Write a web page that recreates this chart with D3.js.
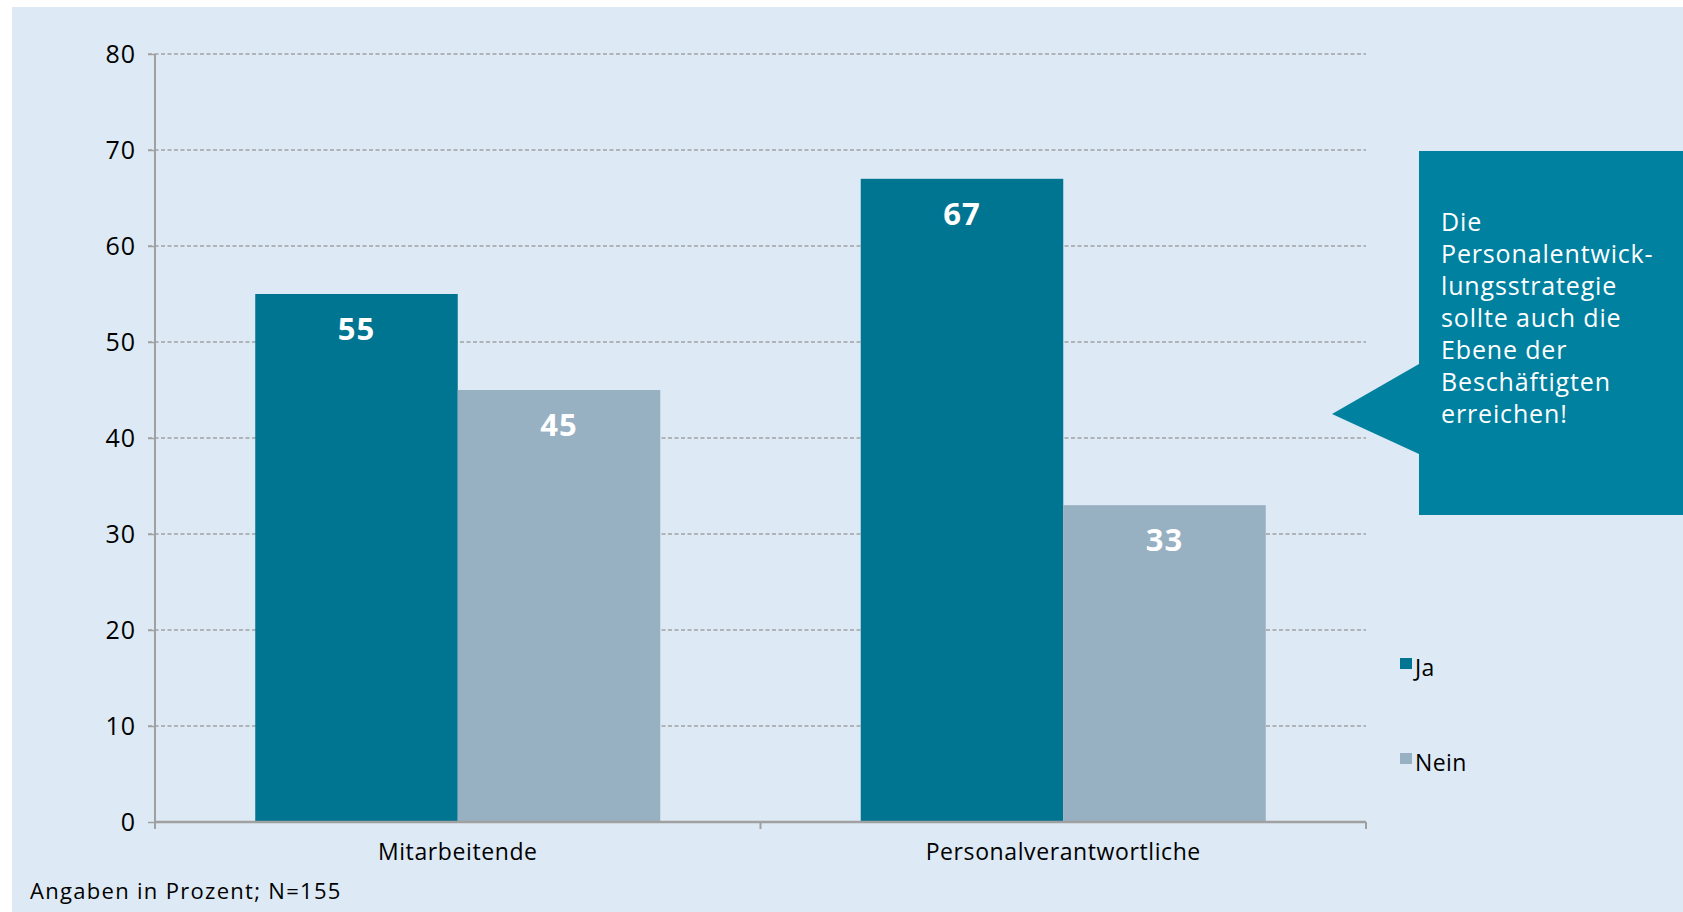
<!DOCTYPE html>
<html><head><meta charset="utf-8">
<script src="https://cdn.jsdelivr.net/npm/d3@7"></script>
<style>html,body{margin:0;padding:0;background:#fff;}svg{display:block;font-family:"Open Sans","Noto Sans",sans-serif;}</style>
</head><body>
<script>
const categories = ["Mitarbeitende", "Personalverantwortliche"];
const seriesNames = ["Ja", "Nein"];
const jaValues = [55, 67];
const neinValues = [45, 33];
const yTicks = [0, 10, 20, 30, 40, 50, 60, 70, 80];
const calloutLines = ["Die", "Personalentwick-", "lungsstrategie", "sollte auch die", "Ebene der", "Beschäftigten", "erreichen!"];
const footnote = "Angaben in Prozent; N=155";
const colors = {Ja: "#007592", Nein: "#97b0c2"};

const W = 1683, H = 912;
const svg = d3.select("body").append("svg").attr("width", W).attr("height", H);
svg.append("rect").attr("x", 12).attr("y", 7).attr("width", W - 12).attr("height", H - 7).attr("fill", "#ddeaf5");

const x0 = 155, x1 = 1366, yTop = 54, yBot = 822;
const x = d3.scaleBand().domain(categories).range([x0, x1]).paddingInner(0).paddingOuter(0);
const xs = d3.scaleBand().domain(seriesNames).range([0, x.bandwidth()]).paddingOuter(0.495).paddingInner(0);
const y = d3.scaleLinear().domain([0, 80]).range([yBot, yTop]);

// grid
svg.append("g").selectAll("line").data(yTicks.filter(d => d > 0)).join("line")
  .attr("x1", x0 - 7).attr("x2", x1).attr("y1", d => y(d)).attr("y2", d => y(d))
  .attr("stroke", "#a3a3a3").attr("stroke-width", 1.5).attr("stroke-dasharray", "4,2.5");

// bars
const data = categories.map((c, i) => ({cat: c, vals: [{s: "Ja", v: jaValues[i]}, {s: "Nein", v: neinValues[i]}]}));
const g = svg.append("g");
const groups = g.selectAll("g").data(data).join("g").attr("transform", d => `translate(${x(d.cat)},0)`);
groups.selectAll("rect").data(d => d.vals).join("rect")
  .attr("x", d => xs(d.s)).attr("width", xs.bandwidth())
  .attr("y", d => y(d.v)).attr("height", d => y(0) - y(d.v))
  .attr("fill", d => colors[d.s]);
groups.selectAll("text").data(d => d.vals).join("text")
  .attr("x", d => xs(d.s) + xs.bandwidth() / 2).attr("y", d => y(d.v) + 46)
  .attr("text-anchor", "middle").attr("fill", "#fff").attr("font-weight", "bold").attr("font-size", 31)
  .attr("letter-spacing", 1)
  .text(d => d.v);

// y axis
const yAxis = d3.axisLeft(y).tickValues(yTicks).tickSize(7).tickPadding(12);
const ya = svg.append("g").attr("transform", `translate(${x0},0)`).call(yAxis);
ya.select(".domain").attr("stroke", "#a0a0a0").attr("stroke-width", 2).attr("d", `M0,${yTop}V${yBot}`);
ya.selectAll(".tick line").attr("stroke", "#a0a0a0").attr("stroke-width", 1.5);
ya.selectAll(".tick text").attr("font-size", 25).attr("letter-spacing", 1).attr("fill", "#000").attr("font-family", "Open Sans");

// x axis
const xa = svg.append("g").attr("transform", `translate(0,${yBot})`)
  .call(d3.axisBottom(x).tickSize(0).tickPadding(22));
xa.select(".domain").attr("stroke", "#a0a0a0").attr("stroke-width", 2.5).attr("d", `M${x0},0H${x1}`);
xa.selectAll(".tick text").attr("font-size", 23).attr("letter-spacing", 0.6).attr("fill", "#000").attr("font-family", "Open Sans");
svg.append("g").selectAll("line").data([x0, (x0 + x1) / 2, x1]).join("line")
  .attr("x1", d => d).attr("x2", d => d).attr("y1", yBot).attr("y2", yBot + 7)
  .attr("stroke", "#a0a0a0").attr("stroke-width", 2);

// legend
const leg = svg.append("g").selectAll("g").data(seriesNames).join("g")
  .attr("transform", (d, i) => `translate(1400,${658 + i * 95})`);
leg.append("rect").attr("width", 12).attr("height", 11).attr("fill", d => colors[d]);
leg.append("text").attr("x", 15).attr("y", 18).attr("font-size", 23).attr("letter-spacing", 0.4).attr("fill", "#000").text(d => d);

// callout
svg.append("path").attr("d", "M1419,151H1683V515H1419V454L1332,414L1419,364Z").attr("fill", "#0081a0");
svg.append("text").attr("x", 1441).attr("y", 231).attr("font-size", 25).attr("letter-spacing", 0.85).attr("fill", "#fff")
  .selectAll("tspan").data(calloutLines).join("tspan")
  .attr("x", 1441).attr("dy", (d, i) => i === 0 ? 0 : 32).text(d => d);

// footnote
svg.append("text").attr("x", 30).attr("y", 899).attr("font-size", 22).attr("letter-spacing", 1.3).attr("fill", "#000").text(footnote);
</script>
</body></html>
